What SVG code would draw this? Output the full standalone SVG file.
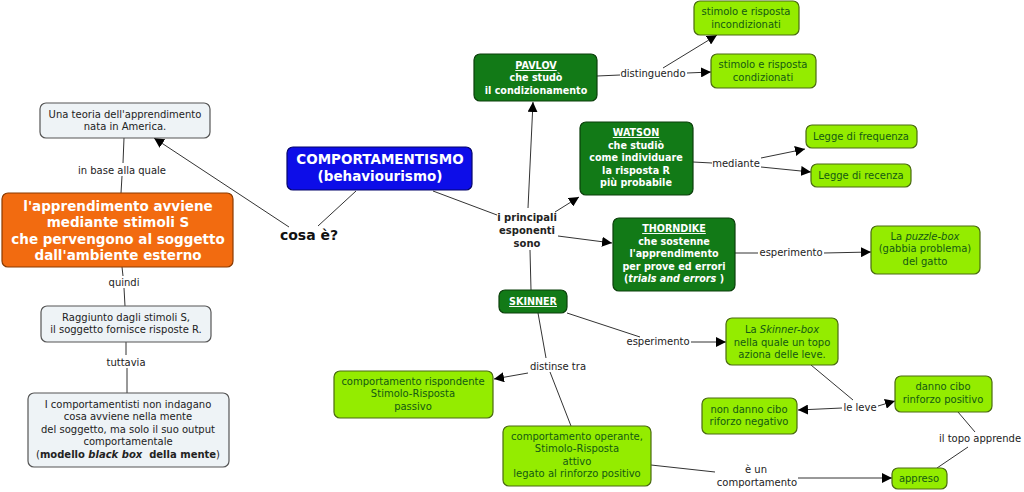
<svg xmlns="http://www.w3.org/2000/svg" width="1024" height="492" viewBox="0 0 1024 492">
<style>
text{font-family:"DejaVu Sans","Verdana",sans-serif;text-anchor:middle}
.gray rect{fill:#eef3f6;stroke:#555;stroke-width:1.2}
.gray text{font-size:10px;fill:#222}
.lg rect{fill:#94ec00;stroke:#4a6a10;stroke-width:1.2}
.lg text{font-size:10px;fill:#135a13}
.dg rect{fill:#127a17;stroke:#0a3f0a;stroke-width:1.2}
.dg text{font-size:9.6px;fill:#fff;font-weight:bold}
.lbl{font-size:10px;fill:#222}
.ot{font-size:13.5px;font-weight:bold;fill:#fff}
.conn line{stroke:#333;stroke-width:1;fill:none}
</style>
<defs>
<marker id="ah" viewBox="0 0 10 10" refX="10" refY="5" markerWidth="10" markerHeight="10" markerUnits="userSpaceOnUse" orient="auto">
<path d="M0,0 L10,5 L0,10 z" fill="#000"/>
</marker>
</defs>
<rect width="1024" height="492" fill="#fff"/>

<g class="conn">
<line x1="124" y1="138" x2="123" y2="163"/>
<line x1="122" y1="176" x2="121" y2="193"/>
<line x1="289" y1="227" x2="154" y2="138" marker-end="url(#ah)"/>
<line x1="356" y1="191" x2="318" y2="226"/>
<line x1="122" y1="267" x2="123" y2="276"/>
<line x1="124" y1="288" x2="125" y2="306"/>
<line x1="126" y1="342" x2="126" y2="355"/>
<line x1="127" y1="368" x2="127" y2="393"/>
<line x1="433" y1="191" x2="497" y2="215"/>
<line x1="528" y1="208" x2="533" y2="102" marker-end="url(#ah)"/>
<line x1="555" y1="212" x2="579" y2="197" marker-end="url(#ah)"/>
<line x1="558" y1="236" x2="612" y2="243" marker-end="url(#ah)"/>
<line x1="530" y1="250" x2="531" y2="290"/>
<line x1="597" y1="76" x2="620" y2="75"/>
<line x1="663" y1="68" x2="717" y2="35" marker-end="url(#ah)"/>
<line x1="687" y1="73" x2="711" y2="72" marker-end="url(#ah)"/>
<line x1="693" y1="162" x2="712" y2="163"/>
<line x1="761" y1="158" x2="805" y2="149" marker-end="url(#ah)"/>
<line x1="761" y1="167" x2="811" y2="172" marker-end="url(#ah)"/>
<line x1="735" y1="253" x2="758" y2="253"/>
<line x1="824" y1="253" x2="871" y2="252" marker-end="url(#ah)"/>
<line x1="567" y1="313" x2="640" y2="337"/>
<line x1="691" y1="342" x2="726" y2="342" marker-end="url(#ah)"/>
<line x1="538" y1="313" x2="546" y2="358"/>
<line x1="550" y1="372" x2="571" y2="426"/>
<line x1="528" y1="373" x2="494" y2="379" marker-end="url(#ah)"/>
<line x1="651" y1="465" x2="715" y2="472"/>
<line x1="798" y1="478" x2="892" y2="478" marker-end="url(#ah)"/>
<line x1="811" y1="365" x2="853" y2="400"/>
<line x1="842" y1="408" x2="798" y2="410" marker-end="url(#ah)"/>
<line x1="878" y1="406" x2="895" y2="401" marker-end="url(#ah)"/>
<line x1="958" y1="412" x2="975" y2="432"/>
<line x1="968" y1="447" x2="937" y2="468"/>
</g>

<g id="labels">
<text class="lbl" x="122" y="174">in base alla quale</text>
<text class="lbl" x="124" y="286">quindi</text>
<text class="lbl" x="126" y="366">tuttavia</text>
<text x="309" y="240" style="font-size:14px;font-weight:bold;fill:#111">cosa è?</text>
<text style="font-size:10px;font-weight:bold;fill:#222" x="527" y="221">i principali</text>
<text style="font-size:10px;font-weight:bold;fill:#222" x="527" y="234">esponenti</text>
<text style="font-size:10px;font-weight:bold;fill:#222" x="527" y="247">sono</text>
<text class="lbl" x="653" y="77">distinguendo</text>
<text class="lbl" x="736" y="167">mediante</text>
<text class="lbl" x="791" y="256">esperimento</text>
<text class="lbl" x="658" y="345">esperimento</text>
<text class="lbl" x="558" y="370">distinse tra</text>
<text class="lbl" x="756" y="473">è un</text>
<text class="lbl" x="757" y="486">comportamento</text>
<text class="lbl" x="860" y="411">le leve</text>
<text class="lbl" x="980" y="442">il topo apprende</text>
</g>

<g id="n-teoria" class="gray">
<rect x="40" y="103" width="170" height="35" rx="6"/>
<text x="125" y="118">Una teoria dell'apprendimento</text>
<text x="125" y="130">nata in America.</text>
</g>

<g id="n-stimoli">
<rect x="2" y="193" width="231" height="74" rx="6" fill="#f26b10" stroke="#8a3a00" stroke-width="1.2"/>
<text class="ot" x="118" y="211">l'apprendimento avviene</text>
<text class="ot" x="118" y="227">mediante stimoli S</text>
<text class="ot" x="118" y="244">che pervengono al soggetto</text>
<text class="ot" x="118" y="260">dall'ambiente esterno</text>
</g>

<g id="n-raggiunto" class="gray">
<rect x="41" y="306" width="170" height="36" rx="6"/>
<text x="126" y="321">Raggiunto dagli stimoli S,</text>
<text x="126" y="333">il soggetto fornisce risposte R.</text>
</g>

<g id="n-comportamentisti" class="gray">
<rect x="28" y="393" width="201" height="74" rx="6"/>
<text x="128" y="408">I comportamentisti non indagano</text>
<text x="128" y="420">cosa avviene nella mente</text>
<text x="128" y="433">del soggetto, ma solo il suo output</text>
<text x="128" y="445">comportamentale</text>
<text x="128" y="458">(<tspan font-weight="bold">modello <tspan font-style="italic">black box</tspan>&#160; della mente</tspan>)</text>
</g>

<g id="n-comportamentismo">
<rect x="287" y="147" width="185" height="43" rx="6" fill="#0d0de8" stroke="#05056a" stroke-width="1.2"/>
<text x="380" y="164" style="font-size:13.5px;font-weight:bold;fill:#fff">COMPORTAMENTISMO</text>
<text x="380" y="181" style="font-size:13.5px;font-weight:bold;fill:#fff">(behaviourismo)</text>
</g>

<g id="n-pavlov" class="dg">
<rect x="474" y="54" width="123" height="47" rx="6"/>
<text x="536" y="69" text-decoration="underline">PAVLOV</text>
<text x="536" y="81">che studò</text>
<text x="536" y="94">il condizionamento</text>
</g>

<g id="n-watson" class="dg">
<rect x="580" y="122" width="113" height="73" rx="6"/>
<text x="636" y="136" text-decoration="underline">WATSON</text>
<text x="636" y="149">che studiò</text>
<text x="636" y="161">come individuare</text>
<text x="636" y="174">la risposta R</text>
<text x="636" y="186">più probabile</text>
</g>

<g id="n-thorndike" class="dg">
<rect x="613" y="218" width="122" height="73" rx="6"/>
<text x="674" y="232" text-decoration="underline">THORNDIKE</text>
<text x="674" y="245">che sostenne</text>
<text x="674" y="257">l'apprendimento</text>
<text x="674" y="270">per prove ed errori</text>
<text x="674" y="282">(<tspan font-style="italic">trials and errors</tspan> )</text>
</g>

<g id="n-skinner" class="dg">
<rect x="499" y="290" width="68" height="23" rx="6"/>
<text x="533" y="305" text-decoration="underline">SKINNER</text>
</g>

<g id="n-incond" class="lg">
<rect x="694" y="1" width="105" height="34" rx="6"/>
<text x="746" y="15">stimolo e risposta</text>
<text x="746" y="28">incondizionati</text>
</g>

<g id="n-cond" class="lg">
<rect x="711" y="54" width="105" height="34" rx="6"/>
<text x="763" y="68">stimolo e risposta</text>
<text x="763" y="81">condizionati</text>
</g>

<g id="n-freq" class="lg">
<rect x="806" y="125" width="111" height="23" rx="6"/>
<text x="861" y="140">Legge di frequenza</text>
</g>

<g id="n-rec" class="lg">
<rect x="811" y="164" width="100" height="23" rx="6"/>
<text x="861" y="179">Legge di recenza</text>
</g>

<g id="n-puzzle" class="lg">
<rect x="871" y="226" width="109" height="48" rx="6"/>
<text x="925" y="240">La <tspan font-style="italic">puzzle-box</tspan></text>
<text x="925" y="252">(gabbia problema)</text>
<text x="925" y="265">del gatto</text>
</g>

<g id="n-skinnerbox" class="lg">
<rect x="726" y="318" width="112" height="47" rx="6"/>
<text x="782" y="333">La <tspan font-style="italic">Skinner-box</tspan></text>
<text x="782" y="346">nella quale un topo</text>
<text x="782" y="358">aziona delle leve.</text>
</g>

<g id="n-danno" class="lg">
<rect x="895" y="376" width="97" height="36" rx="6"/>
<text x="943" y="390">danno cibo</text>
<text x="943" y="403">rinforzo positivo</text>
</g>

<g id="n-nondanno" class="lg">
<rect x="702" y="398" width="95" height="36" rx="6"/>
<text x="749" y="413">non danno cibo</text>
<text x="749" y="425">riforzo negativo</text>
</g>

<g id="n-appreso" class="lg">
<rect x="892" y="468" width="55" height="21" rx="6"/>
<text x="919" y="482">appreso</text>
</g>

<g id="n-rispondente" class="lg">
<rect x="334" y="371" width="159" height="47" rx="6"/>
<text x="413" y="385">comportamento rispondente</text>
<text x="413" y="397">Stimolo-Risposta</text>
<text x="413" y="410">passivo</text>
</g>

<g id="n-operante" class="lg">
<rect x="503" y="426" width="148" height="60" rx="6"/>
<text x="577" y="440">comportamento operante,</text>
<text x="577" y="452">Stimolo-Risposta</text>
<text x="577" y="465">attivo</text>
<text x="577" y="477">legato al rinforzo positivo</text>
</g>
</svg>
